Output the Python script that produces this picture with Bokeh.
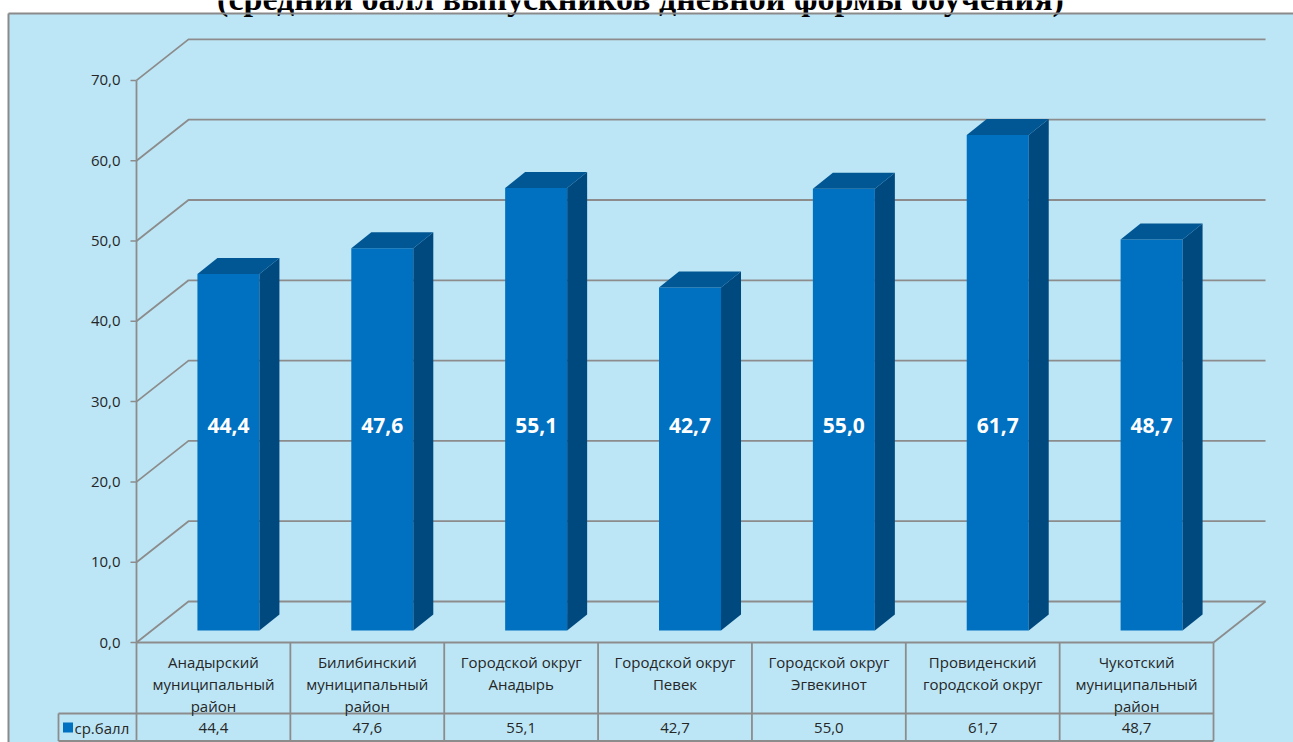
from bokeh.plotting import figure
from bokeh.models import Range1d
from bokeh.core.properties import value
from bokeh.embed import file_html
from bokeh.resources import INLINE

# ---------------- data ----------------
title_text = "(средний балл выпускников дневной формы обучения)"
categories = [
    "Анадырский\nмуниципальный\nрайон",
    "Билибинский\nмуниципальный\nрайон",
    "Городской округ\nАнадырь",
    "Городской округ\nПевек",
    "Городской округ\nЭгвекинот",
    "Провиденский\nгородской округ",
    "Чукотский\nмуниципальный\nрайон",
]
scores = [44.4, 47.6, 55.1, 42.7, 55.0, 61.7, 48.7]
series_name = "ср.балл"
y_ticks = [0, 10, 20, 30, 40, 50, 60, 70]


def fmt(v):
    return f"{v:.1f}".replace(".", ",")


# ---------------- layout (pixels of the page) ----------------
W, H = 1293, 742          # figure size (Bokeh's page has no body margin)
M = 0
OX, OY = 136, 642         # page pixel of category 0 / value 0 (front plane)
CAT_PX = 153.86           # pixels per category column
UNIT_PX = 8.03            # pixels per value unit


def hx(px):  # horizontal pixel distance -> data units
    return px / CAT_PX


def vy(px):  # vertical pixel distance -> data units
    return px / UNIT_PX


BG = "#BCE6F6"
GRID = "#8C8C8C"
TXT = "#262626"
FRONT, SIDE, TOP = "#0070C0", "#00497F", "#005794"
FONT = value("Open Sans")

DX, DY = hx(52), vy(41)          # depth of back wall
BX, BY = hx(15), vy(12)          # front plane of bars
BW = hx(62)                      # bar width
BDX, BDY = hx(20), vy(16)        # bar depth
n = len(categories)

p = figure(
    width=W, height=H,
    x_range=Range1d(hx(M - OX), hx(M + W - OX)),
    y_range=Range1d(-vy(M + H - OY), vy(OY - M)),
    output_backend="svg", toolbar_location=None,
    x_axis_type=None, y_axis_type=None,
    min_border=0, outline_line_color=None,
    background_fill_color="white", border_fill_color="white",
)

# chart area background and border
x_left, x_right = hx(8 - OX), hx(W + 20 - OX)
y_top, y_bot = vy(OY - 13), -vy(H + 20 - OY)
p.quad(left=[x_left], right=[x_right], bottom=[y_bot], top=[y_top],
       fill_color=BG, line_color=None)

# title (cut by the top edge, as in the reference)
p.text(x=[hx(640 - OX)], y=[vy(OY + 2)], text=[title_text],
       text_font=value("Liberation Serif"), text_font_style="bold",
       text_font_size=value("34px"), text_align="center",
       text_baseline="alphabetic", text_color="black")

p.multi_line([[x_left, x_left], [x_left, x_right]],
             [[y_bot, y_top], [y_top, y_top]], line_color="#8A8A8A", line_width=2)

# back wall / floor gridlines
gx, gy = [], []
for t in y_ticks:
    gx.append([0, DX, n + DX])
    gy.append([t, t + DY, t + DY])
gx.append([n, n + DX])
gy.append([0, DY])
p.multi_line(gx, gy, line_color=GRID, line_width=1.8)

# value axis
p.segment(x0=[0], y0=[min(y_ticks)], x1=[0], y1=[max(y_ticks)],
          line_color=GRID, line_width=1.8)
p.segment(x0=[hx(-6)] * len(y_ticks), y0=y_ticks, x1=[0] * len(y_ticks), y1=y_ticks,
          line_color=GRID, line_width=1.5)
p.text(x=[hx(-16)] * len(y_ticks), y=y_ticks, text=[fmt(t) for t in y_ticks],
       text_font=FONT, text_font_size=value("15px"), text_align="right",
       text_baseline="middle", text_color=TXT)

# bars
xc = [i + 0.5 + BX for i in range(n)]
x0 = [c - BW / 2 for c in xc]
x1 = [c + BW / 2 for c in xc]
tops = [BY + s for s in scores]
p.quad(left=x0, right=x1, bottom=[BY] * n, top=tops,
       fill_color=FRONT, line_color=None)
p.patches(xs=[[a, a + BDX, a + BDX, a] for a in x1],
          ys=[[BY, BY + BDY, t + BDY, t] for t in tops],
          fill_color=SIDE, line_color=None)
p.patches(xs=[[a, b, b + BDX, a + BDX] for a, b in zip(x0, x1)],
          ys=[[t, t, t + BDY, t + BDY] for t in tops],
          fill_color=TOP, line_color=None)

# value labels on bars
p.text(x=xc, y=[27.0] * n, text=[fmt(s) for s in scores],
       text_font=FONT, text_font_style="bold", text_font_size=value("21px"),
       text_align="center", text_baseline="middle", text_color="white")

# data table
row1, row2 = -vy(71), -vy(98.5)
leg_x = hx(-78)
tx = [[0, n], [leg_x, n], [leg_x, n], [leg_x, leg_x]]
ty = [[0, 0], [row1, row1], [row2, row2], [row1, row2]]
for i in range(n + 1):
    tx.append([i, i])
    ty.append([0, row2])
p.multi_line(tx, ty, line_color=GRID, line_width=1.8)

hx_list, hy_list, ht_list = [], [], []
for i, cat in enumerate(categories):
    for j, line in enumerate(cat.split("\n")):
        hx_list.append(i + 0.5)
        hy_list.append(-vy(19 + 22 * j))
        ht_list.append(line)
p.text(x=hx_list, y=hy_list, text=ht_list, text_font=FONT,
       text_font_size=value("15px"), text_align="center",
       text_baseline="middle", text_color=TXT)

p.text(x=[i + 0.5 for i in range(n)], y=[-vy(85)] * n, text=[fmt(s) for s in scores],
       text_font=FONT, text_font_size=value("15px"), text_align="center",
       text_baseline="middle", text_color=TXT)

# legend key inside the table
p.scatter(x=[hx(67.5 - OX)], y=[-vy(85)], marker="square", size=10,
          fill_color=FRONT, line_color=None)
p.text(x=[hx(74 - OX)], y=[-vy(85)], text=[series_name], text_font=FONT,
       text_font_size=value("15px"), text_align="left",
       text_baseline="middle", text_color=TXT)

open("out.html", "w").write(file_html(p, INLINE))
